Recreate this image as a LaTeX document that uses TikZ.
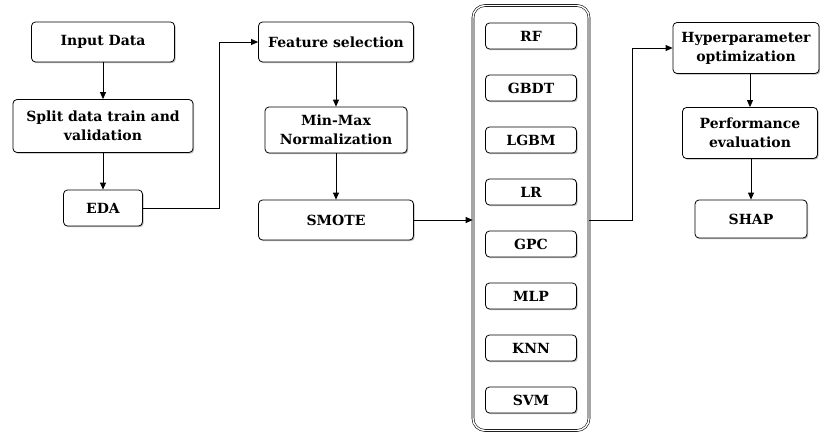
\documentclass[tikz,border=0pt]{standalone}
\usepackage{fontspec}
\setmainfont{DejaVu Serif}
\usetikzlibrary{shadows,arrows.meta}

\begin{document}
\begin{tikzpicture}[x=1pt,y=-1pt,
	box/.style={draw, rounded corners=4pt, fill=white, line width=0.8pt,
		font=\fontsize{14}{19}\selectfont\bfseries, align=center, inner sep=0pt,
		drop shadow={shadow xshift=1.2pt, shadow yshift=-1.2pt, fill=black!45, opacity=0.6}},
	model/.style={box, minimum width=91pt, minimum height=26pt},
	arr/.style={-{Triangle[length=7pt,width=6pt]}, line width=0.8pt}]
	\useasboundingbox (0,0) rectangle (820,434);
	% left column
	\node[box, minimum width=143pt, minimum height=40pt] (input) at (103,42) {Input Data};
	\node[box, minimum width=180pt, minimum height=53pt] (split) at (103,126) {Split data train and\\validation};
	\node[box, minimum width=79pt, minimum height=36pt] (eda) at (103,208) {EDA};
	% middle column
	\node[box, minimum width=155pt, minimum height=40pt] (feat) at (336,42) {Feature selection};
	\node[box, minimum width=142pt, minimum height=46pt] (norm) at (336,130) {Min-Max\\Normalization};
	\node[box, minimum width=155pt, minimum height=40pt] (smote) at (336,220) {SMOTE};
	% models
	\node[draw, double, double distance=1.4pt, line width=0.6pt, rounded corners=12pt,
		minimum width=116pt, minimum height=425pt] (models) at (531,218) {};
	\foreach \name [count=\i] in {RF,GBDT,LGBM,LR,GPC,MLP,KNN,SVM}
		\node[model] (m\i) at (531,{36+52*(\i-1)}) {\name};
	% right column
	\node[box, minimum width=146pt, minimum height=51pt] (hyper) at (746,48) {Hyperparameter\\optimization};
	\node[box, minimum width=135pt, minimum height=51pt] (perf) at (750,133) {Performance\\evaluation};
	\node[box, minimum width=112pt, minimum height=38pt] (shap) at (751,219) {SHAP};
	% arrows
	\draw[arr] (input) -- (split);
	\draw[arr] (split) -- (eda);
	\draw[arr] (eda.east) -| (219,42) -- (feat.west);
	\draw[arr] (feat) -- (norm);
	\draw[arr] (norm) -- (smote);
	\draw[arr] (smote.east) -- (models.west |- smote.east);
	\draw[arr] (models.east |- smote.east) -| (632,48) -- (hyper.west);
	\draw[arr] (hyper.south -| perf) -- (perf);
	\draw[arr] (perf.south -| shap) -- (shap);
\end{tikzpicture}
\end{document}
